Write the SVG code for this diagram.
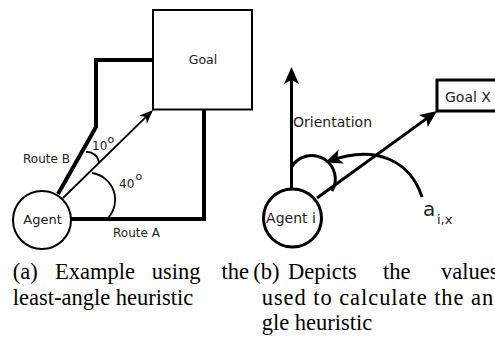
<svg xmlns="http://www.w3.org/2000/svg" width="495" height="338" viewBox="0 0 495 338">
<style>
.lbl{font-family:"DejaVu Sans","Liberation Sans",sans-serif;fill:#222}
.cap{font-family:"Liberation Serif","Times New Roman",serif;font-size:22.5px;fill:#000}
.ln{fill:none;stroke:#000}
</style>
<defs>
<marker id="ahThin" markerUnits="userSpaceOnUse" markerWidth="20" markerHeight="20" viewBox="-16 -10 20 20" refX="0" refY="0" orient="auto" overflow="visible">
<path d="M3,0 L-11,-5.5 L-7,0 L-11,5.5 Z" fill="#000"/>
</marker>
<marker id="ahThick" markerUnits="userSpaceOnUse" markerWidth="24" markerHeight="24" viewBox="-20 -12 24 24" refX="0" refY="0" orient="auto" overflow="visible">
<path d="M4,0 L-13,-7.5 L-9,0 L-13,7.5 Z" fill="#000"/>
</marker>
</defs>

<!-- Left panel -->
<g id="goal">
<rect x="153" y="10" width="99" height="99.5" fill="#fff" stroke="#000" stroke-width="2"/>
<text class="lbl" x="203" y="64" font-size="12.5" text-anchor="middle">Goal</text>
</g>
<g id="agent">
<circle cx="42" cy="220" r="29" fill="#fff" stroke="#000" stroke-width="2"/>
<text class="lbl" x="42.5" y="224" font-size="13" text-anchor="middle">Agent</text>
</g>
<g id="connectors-left">
<polyline class="ln" points="58,194 96,127 96,60 153,60" stroke-width="4" stroke-linejoin="miter"/>
<polyline class="ln" points="71,219 204,219 204,110" stroke-width="4"/>
<line class="ln" x1="63" y1="198" x2="150.9" y2="112.1" stroke-width="1.8" marker-end="url(#ahThin)"/>
<path class="ln" d="M86,152 A12,12 0 0 1 99,163" stroke-width="1.8"/>
<path class="ln" d="M92,173 A27,27 0 0 1 108,218" stroke-width="1.8"/>
</g>
<g id="labels-left">
<text class="lbl" x="23" y="163" font-size="12">Route B</text>
<text class="lbl" x="92" y="150" font-size="12">10</text>
<text class="lbl" x="107.5" y="143" font-size="11">o</text>
<text class="lbl" x="119" y="188" font-size="12">40</text>
<text class="lbl" x="135.5" y="180" font-size="11">o</text>
<text class="lbl" x="113" y="237" font-size="12">Route A</text>
</g>

<!-- Right panel -->
<g id="goal-x">
<rect x="437" y="80" width="70" height="31" fill="#fff" stroke="#000" stroke-width="3"/>
<text class="lbl" x="445" y="101.5" font-size="14">Goal X</text>
</g>
<g id="agent-i">
<circle cx="292.5" cy="218" r="29" fill="#fff" stroke="#000" stroke-width="3"/>
<text class="lbl" x="291" y="223" font-size="14" text-anchor="middle">Agent i</text>
</g>
<g id="connectors-right">
<line class="ln" x1="291.5" y1="189" x2="291.5" y2="71" stroke-width="3" marker-end="url(#ahThick)"/>
<path class="ln" d="M291.5,167 A23,23 0 0 1 332,191" stroke-width="3"/>
<line class="ln" x1="317" y1="198" x2="433.8" y2="113.4" stroke-width="3" marker-end="url(#ahThick)"/>
<path class="ln" d="M422,197 C411,163 378,143 329,161" stroke-width="3" marker-end="url(#ahThick)"/>
</g>
<g id="labels-right">
<text class="lbl" x="293" y="127" font-size="14">Orientation</text>
<text class="lbl" x="423" y="216" font-size="20">a</text>
<text class="lbl" x="437" y="224" font-size="13">i,x</text>
</g>

<!-- Captions -->
<g id="captions">
<text class="cap" x="12.7" y="279">(a)</text>
<text class="cap" x="55" y="279">Example</text>
<text class="cap" x="151.7" y="279">using</text>
<text class="cap" x="221.5" y="279">the</text>
<text class="cap" x="12.7" y="305">least-angle heuristic</text>
<text class="cap" x="253.3" y="279">(b)</text>
<text class="cap" x="288" y="279">Depicts</text>
<text class="cap" x="383" y="279">the</text>
<text class="cap" x="441" y="279">values</text>
<text class="cap" x="261.7" y="305" textLength="231.5" lengthAdjust="spacing">used to calculate the an</text>
<text class="cap" x="261.7" y="330">gle heuristic</text>
</g>
</svg>
